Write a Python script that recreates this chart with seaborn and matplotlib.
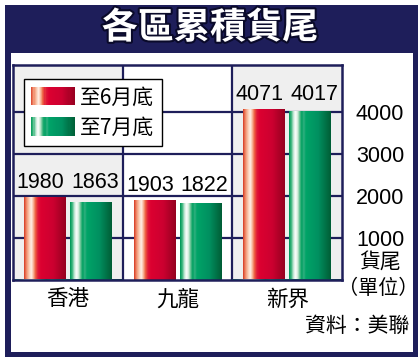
import numpy as np
import pandas as pd
import seaborn as sns
import matplotlib.pyplot as plt
import matplotlib.patheffects as pe
from matplotlib import font_manager
from matplotlib.colors import LinearSegmentedColormap
from matplotlib.patches import Rectangle
from matplotlib.legend_handler import HandlerBase

# 数据
categories = ['香港', '九龍', '新界']
series_names = ['至6月底', '至7月底']
june_values = [1980, 1903, 4071]
july_values = [1863, 1822, 4017]
y_ticks = [1000, 2000, 3000, 4000]

df = pd.DataFrame({
    'area': categories * 2,
    'period': [series_names[0]] * 3 + [series_names[1]] * 3,
    'value': june_values + july_values,
})

sns.set_theme(style='white')
plt.rcParams['font.family'] = ['Noto Sans CJK TC', 'DejaVu Sans']
plt.rcParams['text.color'] = 'black'
plt.rcParams['xtick.color'] = 'black'
plt.rcParams['ytick.color'] = 'black'

navy = '#1e1e5a'
cell_gray = '#efefef'

# 窄体数字字体（没有就退回普通字体）
try:
    font_manager.findfont('Liberation Sans Narrow', fallback_to_default=False)
    num_font, num_size = 'Liberation Sans Narrow', 18
except ValueError:
    num_font, num_size = 'Liberation Sans', 15.5

red_cmap = LinearSegmentedColormap.from_list('red_bar', [
    (0.0, '#d8402a'), (0.05, '#f08a68'), (0.12, '#fbd0b8'), (0.17, '#fff0e8'),
    (0.22, '#f8b090'), (0.27, '#ee6040'), (0.33, '#e01838'), (0.40, '#dc0030'),
    (0.70, '#cc0030'), (1.0, '#960020')])
green_cmap = LinearSegmentedColormap.from_list('green_bar', [
    (0.0, '#009858'), (0.05, '#40b880'), (0.10, '#c8e8d8'), (0.15, '#ffffff'),
    (0.20, '#d0ecd8'), (0.25, '#60c090'), (0.30, '#00a060'), (0.35, '#30b080'),
    (0.40, '#00a468'), (0.70, '#009060'), (1.0, '#005e36')])
cmaps = {series_names[0]: red_cmap, series_names[1]: green_cmap}


class GradientHandler(HandlerBase):
    def __init__(self, cmap, n=40):
        super().__init__()
        self.cmap = cmap
        self.n = n

    def create_artists(self, legend, orig_handle, xdescent, ydescent,
                       width, height, fontsize, trans):
        step = width / self.n
        out = []
        for i in range(self.n):
            r = Rectangle((-xdescent + i * step, -ydescent), step * 1.05, height,
                          facecolor=self.cmap((i + 0.5) / self.n),
                          edgecolor='none', transform=trans)
            out.append(r)
        return out


W, H = 420, 361
fig = plt.figure(figsize=(W / 100, H / 100), dpi=100)
fig.patch.set_facecolor('white')

# 外框
fig.patches.append(Rectangle((5 / W, 1 - 357 / H), 413 / W, 352 / H,
                             transform=fig.transFigure, facecolor=navy,
                             edgecolor='none', zorder=-2))
fig.patches.append(Rectangle((11 / W, 1 - 352 / H), 402 / W, 299 / H,
                             transform=fig.transFigure, facecolor='white',
                             edgecolor='none', zorder=-1))

ax = fig.add_axes([13 / W, 1 - 280 / H, 329 / W, 215 / H])
ax.set_facecolor('white')

sns.barplot(data=df, x='area', y='value', hue='period', order=categories,
            hue_order=series_names, palette=['#dc0030', '#00a060'],
            width=0.84, gap=0.1, edgecolor='none', saturation=1, ax=ax)

ax.set_xlim(-0.5, 2.5)
ax.set_ylim(0, 5120)

# 灰白格子
for i in (0, 2):
    ax.axvspan(i - 0.5, i + 0.5, color=cell_gray, zorder=0.1, lw=0)
for xv in (0.5, 1.5):
    ax.axvline(xv, color=navy, lw=1.6, zorder=0.6)
ax.set_yticks(y_ticks)
ax.yaxis.grid(True, color=navy, lw=1.6)
ax.set_axisbelow(True)
for s in ax.spines.values():
    s.set_color(navy)
    s.set_linewidth(1.8)
    s.set_visible(True)

# 渐变柱
bars = [p for p in ax.patches if p.get_height() > 0]
for k, p in enumerate(bars):
    cmap = red_cmap if k < 3 else green_cmap
    x0, w, h = p.get_x(), p.get_width(), p.get_height()
    img = ax.imshow(np.linspace(0, 1, 64)[None, :], cmap=cmap, aspect='auto',
                    extent=[x0, x0 + w, 0, h], zorder=2,
                    interpolation='bilinear')
    img.set_clip_path(p)
ax.set_xlim(-0.5, 2.5)
ax.set_ylim(0, 5120)

# 数值标签（两柱取高者，略向外错开）
for i in range(3):
    top = max(june_values[i], july_values[i])
    for p, v, dx in ((bars[i], june_values[i], -3), (bars[i + 3], july_values[i], 3)):
        ax.annotate(f'{v}', (p.get_x() + p.get_width() / 2, top),
                    xytext=(dx, 6.5), textcoords='offset points',
                    ha='center', va='baseline', fontsize=num_size,
                    family=num_font, zorder=5)

ax.set_xlabel('')
ax.set_ylabel('')
ax.yaxis.tick_right()
ax.tick_params(axis='y', length=0, pad=10)
ax.tick_params(axis='x', length=0, pad=6, labelsize=15.5)
ax.set_yticklabels([str(t) for t in y_ticks], fontsize=num_size, family=num_font)

# 图例
handles, labels = ax.get_legend_handles_labels()
hmap = {h: GradientHandler(cmaps[l]) for h, l in zip(handles, labels)}
leg = ax.legend(handles, labels, handler_map=hmap, loc='upper left',
                bbox_to_anchor=(24 / W, 1 - 79 / H), bbox_transform=fig.transFigure,
                borderaxespad=0, fontsize=15, frameon=True, fancybox=False,
                edgecolor='black', framealpha=1, handlelength=2.1,
                handleheight=1.0, handletextpad=0.25, labelspacing=0.4,
                borderpad=0.35)
leg.get_frame().set_linewidth(1.0)
leg.set_zorder(6)

# 标题和注释
fig.text(0.5, 1 - 28 / H, '各區累積貨尾', ha='center', va='center',
         fontsize=26, fontweight='bold', color='white',
         path_effects=[pe.withStroke(linewidth=3, foreground='#0a0a2a')])
fig.text(380 / W, 1 - 262 / H, '貨尾', ha='center', va='center', fontsize=15)
fig.text(378 / W, 1 - 289 / H, '（單位）', ha='center', va='center', fontsize=14.5)
fig.text(409 / W, 1 - 326 / H, '資料：美聯', ha='right', va='center', fontsize=15)

fig.savefig('out.png', dpi=100)
